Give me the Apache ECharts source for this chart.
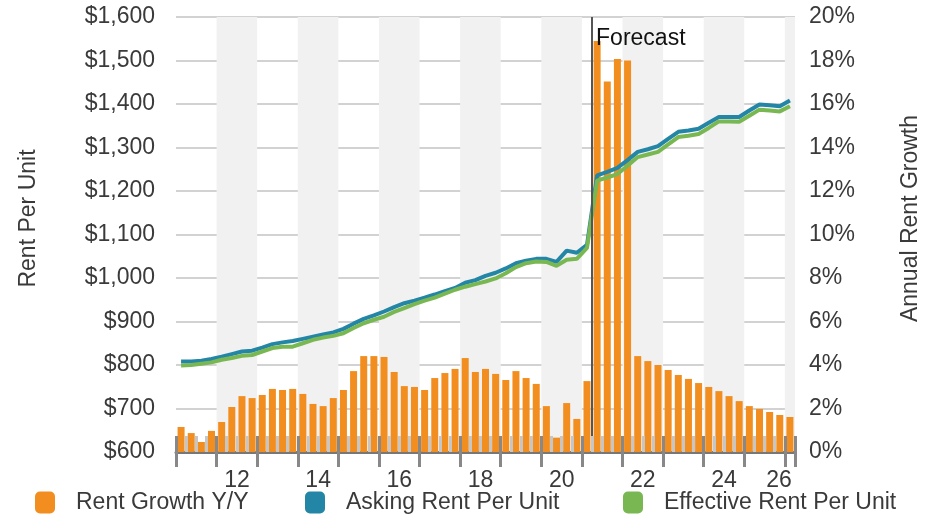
<!DOCTYPE html>
<html>
<head>
<meta charset="utf-8">
<script src="https://cdn.jsdelivr.net/npm/echarts@6/dist/echarts.min.js"></script>
<style>
  html, body { margin: 0; padding: 0; background: #fff; }
  #chart { width: 943px; height: 516px; }
</style>
</head>
<body>
<div id="chart"></div>
<script>
// quarters 2011 Q1 .. 2026 Q1
const quarters = [
    '11Q1', '11Q2', '11Q3', '11Q4', '12Q1', '12Q2', '12Q3', '12Q4',
    '13Q1', '13Q2', '13Q3', '13Q4', '14Q1', '14Q2', '14Q3', '14Q4',
    '15Q1', '15Q2', '15Q3', '15Q4', '16Q1', '16Q2', '16Q3', '16Q4',
    '17Q1', '17Q2', '17Q3', '17Q4', '18Q1', '18Q2', '18Q3', '18Q4',
    '19Q1', '19Q2', '19Q3', '19Q4', '20Q1', '20Q2', '20Q3', '20Q4',
    '21Q1', '21Q2', '21Q3', '21Q4', '22Q1', '22Q2', '22Q3', '22Q4',
    '23Q1', '23Q2', '23Q3', '23Q4', '24Q1', '24Q2', '24Q3', '24Q4',
    '25Q1', '25Q2', '25Q3', '25Q4', '26Q1'
]
// quarters that carry a year label
const labelQuarters = ['12Q3', '14Q3', '16Q3', '18Q3', '20Q3', '22Q3', '24Q3', '26Q1']
const forecastStart = '21Q2'

// annual rent growth, %
const rentGrowth = [
    1.15, 0.87, 0.46, 0.97, 1.38, 2.07, 2.57, 2.48, 2.62, 2.90,
    2.85, 2.90, 2.67, 2.21, 2.11, 2.48, 2.85, 3.72, 4.41, 4.41,
    4.37, 3.68, 3.03, 2.99, 2.85, 3.40, 3.63, 3.82, 4.32, 3.68,
    3.82, 3.59, 3.31, 3.72, 3.40, 3.13, 2.11, 0.66, 2.25, 1.52,
    3.26, 18.9, 17.03, 18.07, 18.0, 4.41, 4.18, 4.00, 3.77, 3.54,
    3.36, 3.17, 2.99, 2.80, 2.57, 2.34, 2.11, 1.98, 1.84, 1.70,
    1.61
]
// asking rent per unit, $
const askingRent = [
    808, 808, 810, 814, 819, 825, 831, 833, 840, 848,
    852, 855, 860, 865, 870, 875, 883, 895, 906, 914,
    923, 933, 942, 948, 955, 962, 970, 977, 989, 995,
    1005, 1012, 1022, 1034, 1040, 1044, 1044, 1037, 1063, 1058,
    1076, 1236, 1244, 1253, 1271, 1290, 1296, 1303, 1320, 1336,
    1339, 1343, 1357, 1370, 1370, 1370, 1385, 1399, 1397, 1395,
    1408
]
// effective rent per unit, $
const effectiveRent = [
    799, 800, 803, 806, 812, 816, 821, 823, 831, 839,
    842, 842, 850, 858, 863, 867, 873, 885, 896, 904,
    911, 922, 931, 940, 948, 955, 964, 973, 980, 986,
    992, 999, 1011, 1025, 1034, 1038, 1037, 1028, 1042, 1044,
    1069, 1224, 1231, 1239, 1258, 1278, 1284, 1290, 1307, 1324,
    1327, 1331, 1345, 1360, 1360, 1359, 1373, 1387, 1385, 1383,
    1395
]

const FONT = 'Liberation Sans'
const TXT = '#3a3a3a'
const ORANGE = '#F28E1F'
const BLUE = '#2386A6'
const GREEN = '#79B752'

let chart = echarts.init(document.getElementById('chart'), null, { renderer: 'canvas' })

const forecastIdx = quarters.indexOf(forecastStart)

chart.setOption({
    animation: false,
    textStyle: { fontFamily: FONT },
    grid: { left: 176, right: 148, top: 17, bottom: 64, containLabel: false },
    legend: [
        { data: ['Rent Growth Y/Y'], left: 30 },
        { data: ['Asking Rent Per Unit'], left: 300 },
        { data: ['Effective Rent Per Unit'], left: 618 }
    ].map((l) => Object.assign(l, {
        top: 486, icon: 'roundRect', itemWidth: 20, itemHeight: 22,
        textStyle: { fontFamily: FONT, fontSize: 23, color: TXT, padding: [0, 0, 0, 16] }
    })),
    xAxis: [
        {
            type: 'category', data: quarters, boundaryGap: true,
            axisLine: { show: true, lineStyle: { color: '#777', width: 3 } },
            axisTick: { show: true, inside: false, interval: 3, length: 15, lineStyle: { color: '#888', width: 3 } },
            axisLabel: {
                show: true, margin: 17, fontSize: 23, color: TXT, fontFamily: FONT,
                interval: (i, v) => labelQuarters.indexOf(v) >= 0,
                formatter: (v) => v === '26Q1' ? '{e|' + v.slice(0, 2) + '}' : '{n|' + v.slice(0, 2) + '}',
                rich: {
                    n: { fontSize: 23, color: TXT, fontFamily: FONT, padding: [0, 10, 0, 0] },
                    e: { fontSize: 23, color: TXT, fontFamily: FONT, padding: [0, 22, 0, 0] }
                }
            },
            splitArea: { show: true, interval: 3, areaStyle: { color: ['rgba(255,255,255,0)', '#F1F1F1'] } },
            splitLine: { show: false }
        },
        {
            type: 'category', data: quarters, position: 'bottom', z: 5,
            axisLine: { show: false }, axisLabel: { show: false },
            axisTick: { show: true, inside: true, interval: 0, length: 16, lineStyle: { color: '#c6c6c6', width: 3 } }
        },
        {
            type: 'category', data: quarters, position: 'bottom', z: 6,
            axisLine: { show: false }, axisLabel: { show: false },
            axisTick: { show: true, inside: true, interval: 3, length: 16, lineStyle: { color: '#888', width: 3 } }
        },
        {
            type: 'value', show: false, min: 0, max: quarters.length
        }
    ],
    yAxis: [
        {
            type: 'value', min: 600, max: 1600, interval: 100,
            name: 'Rent Per Unit', nameLocation: 'middle', nameGap: 136,
            nameTextStyle: { fontSize: 23, color: TXT, fontFamily: FONT, padding: [0, 0, 0, 32] },
            axisLine: { show: false }, axisTick: { show: false },
            axisLabel: { margin: 21, fontSize: 23, color: TXT, formatter: (v) => '$' + v.toLocaleString('en-US') },
            splitLine: { show: true, lineStyle: { color: '#d2d2d2', width: 2 } }
        },
        {
            type: 'value', min: 0, max: 20, interval: 2,
            name: 'Annual Rent Growth', nameLocation: 'middle', nameGap: 104,
            nameTextStyle: { fontSize: 23, color: TXT, fontFamily: FONT, padding: [0, 0, 0, 32] },
            axisLine: { show: false }, axisTick: { show: false },
            axisLabel: { margin: 14, fontSize: 23, color: TXT, formatter: '{value}%' },
            splitLine: { show: false }
        }
    ],
    series: [
        {
            name: 'Rent Growth Y/Y', type: 'bar', xAxisIndex: 0, yAxisIndex: 1,
            data: rentGrowth, barWidth: 7, itemStyle: { color: ORANGE }, z: 2
        },
        {
            name: 'Asking Rent Per Unit', type: 'line', xAxisIndex: 0, yAxisIndex: 0,
            data: askingRent, symbol: 'none', itemStyle: { color: BLUE },
            lineStyle: { color: BLUE, width: 4 }, z: 3
        },
        {
            name: 'Effective Rent Per Unit', type: 'line', xAxisIndex: 0, yAxisIndex: 0,
            data: effectiveRent, symbol: 'none', itemStyle: { color: GREEN },
            lineStyle: { color: GREEN, width: 4 }, z: 4
        },
        {
            // forecast divider, on the hidden value axis
            type: 'line', xAxisIndex: 3, yAxisIndex: 0, data: [], silent: true, z: 7,
            markLine: {
                symbol: 'none', silent: true, animation: false,
                label: { show: false },
                lineStyle: { color: '#555', width: 2, type: 'solid' },
                data: [{ xAxis: forecastIdx }]
            }
        }
    ]
})

let fx = chart.convertToPixel({ xAxisIndex: 3 }, forecastIdx)
chart.setOption({
    graphic: [{
        type: 'text', left: fx + 4, top: 27, z: 10,
        style: { text: 'Forecast', fontSize: 23, fontFamily: FONT, fill: '#111' }
    }]
})
</script>
</body>
</html>
